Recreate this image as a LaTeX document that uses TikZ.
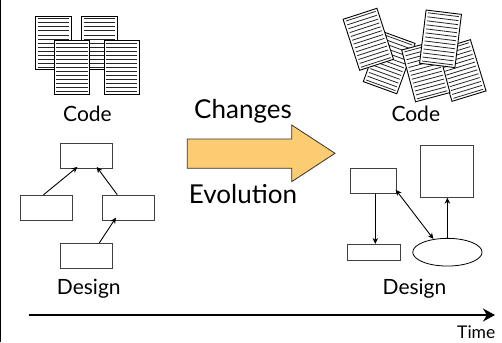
\documentclass[tikz,border=0pt]{standalone}
\usepackage{fontspec}
\setmainfont{Lato}
\usetikzlibrary{arrows.meta,shapes.geometric}
\definecolor{arrowfill}{HTML}{FCCC72}
\newcommand{\docpage}[3]{%
  \begin{scope}[shift={(#1,#2)},rotate=#3]
    \draw[black,line width=.9pt,fill=white] (-17.8,-26.8) rectangle (17.8,26.8);
    \foreach \k in {-5.5,-4.5,...,6.5} \draw[black!85,line width=.8pt] (-15.6,\k*4.05-2) -- (15.6,\k*4.05-2);
  \end{scope}}
\tikzset{
  blockbox/.style={draw=black!75,fill=white,line width=.8pt,inner sep=0pt},
  conn/.style={-{Stealth[length=6pt,width=5.5pt]},line width=.9pt},
  biconn/.style={{Stealth[length=6pt,width=5.5pt]}-{Stealth[length=6pt,width=5.5pt]},line width=.9pt},
  lab/.style={inner sep=0pt,anchor=base,font=\fontsize{21}{24}\selectfont},
  biglab/.style={inner sep=0pt,anchor=base,font=\fontsize{26}{30}\selectfont}
}
\begin{document}
\begin{tikzpicture}[x=1pt,y=-1pt]
\useasboundingbox (0,0) rectangle (502,342);
\fill[white] (0,0) rectangle (502,342);
\coordinate (edgeA) at (0.6,0);
\coordinate (edgeB) at (0.6,342);
\draw[line width=1.3pt] (edgeA) -- (edgeB);
% left code
\docpage{53.2}{43}{0}
\docpage{99.3}{43}{0}
\docpage{72}{67.5}{0}
\docpage{121.8}{67.5}{0}
\node[lab] (codeL) at (87.5,121.7) {Code};
% right code
\docpage{389.2}{62.5}{-20}
\docpage{461.2}{70.5}{17}
\docpage{425.8}{71.3}{15}
\docpage{368.3}{39.3}{18}
\docpage{440.5}{38.8}{-7}
\node[lab] (codeR) at (415.8,121.7) {Code};
% block arrow
\draw[draw=black!80,line width=.8pt,fill=arrowfill]
  (187.3,139) -- (291.7,139) -- (291.7,125) -- (335,153.3) -- (291.7,181.7) -- (291.7,168.3) -- (187.3,168.3) -- cycle;
\node[biglab] (changes) at (243,118) {Changes};
\node[biglab] (evolution) at (243,203) {Evolution};
% left design
\node[blockbox,minimum width=52pt,minimum height=25pt] (t) at (86.5,156) {};
\node[blockbox,minimum width=52pt,minimum height=25pt] (l) at (46.5,207.7) {};
\node[blockbox,minimum width=52pt,minimum height=25pt] (r) at (128.7,207.7) {};
\node[blockbox,minimum width=52pt,minimum height=25pt] (b) at (86.5,255.8) {};
\draw[conn] ([xshift=-3pt]l.north) -- ([xshift=-9pt,yshift=2pt]t.south);
\draw[conn] ([xshift=-11.4pt]r.north) -- ([xshift=10.2pt,yshift=2pt]t.south);
\draw[conn] ([xshift=12.8pt]b.north) -- ([xshift=-12.7pt,yshift=3pt]r.south);
\node[lab] (designL) at (88.8,294) {Design};
% right design
\node[blockbox,minimum width=46pt,minimum height=25pt] (p) at (373.7,180.8) {};
\node[blockbox,minimum width=53pt,minimum height=52pt] (q) at (447.2,171.3) {};
\node[blockbox,minimum width=52.7pt,minimum height=15.7pt] (s) at (373.7,252.2) {};
\node[draw=black,fill=white,line width=.8pt,ellipse,inner sep=0pt,minimum width=69.3pt,minimum height=27.7pt] (e) at (447.4,252.2) {};
\draw[conn] ([xshift=1.6pt]p.south) -- ([xshift=1.6pt]p.south |- s.north);
\draw[conn] (e.north) -- (e.north |- q.south);
\draw[biconn] ([xshift=22pt,yshift=4pt]p.south) -- ([xshift=-14pt,yshift=-1pt]e.north);
\node[lab] (designR) at (414.5,294) {Design};
% time axis
\coordinate (t0) at (28.7,315);
\coordinate (t1) at (495,315);
\draw[-{Stealth[length=12pt,width=13pt]},line width=2.2pt] (t0) -- (t1);
\node[inner sep=0pt,anchor=base east,font=\fontsize{17.5}{20}\selectfont] (time) at (495.5,338) {Time};
\end{tikzpicture}
\end{document}
